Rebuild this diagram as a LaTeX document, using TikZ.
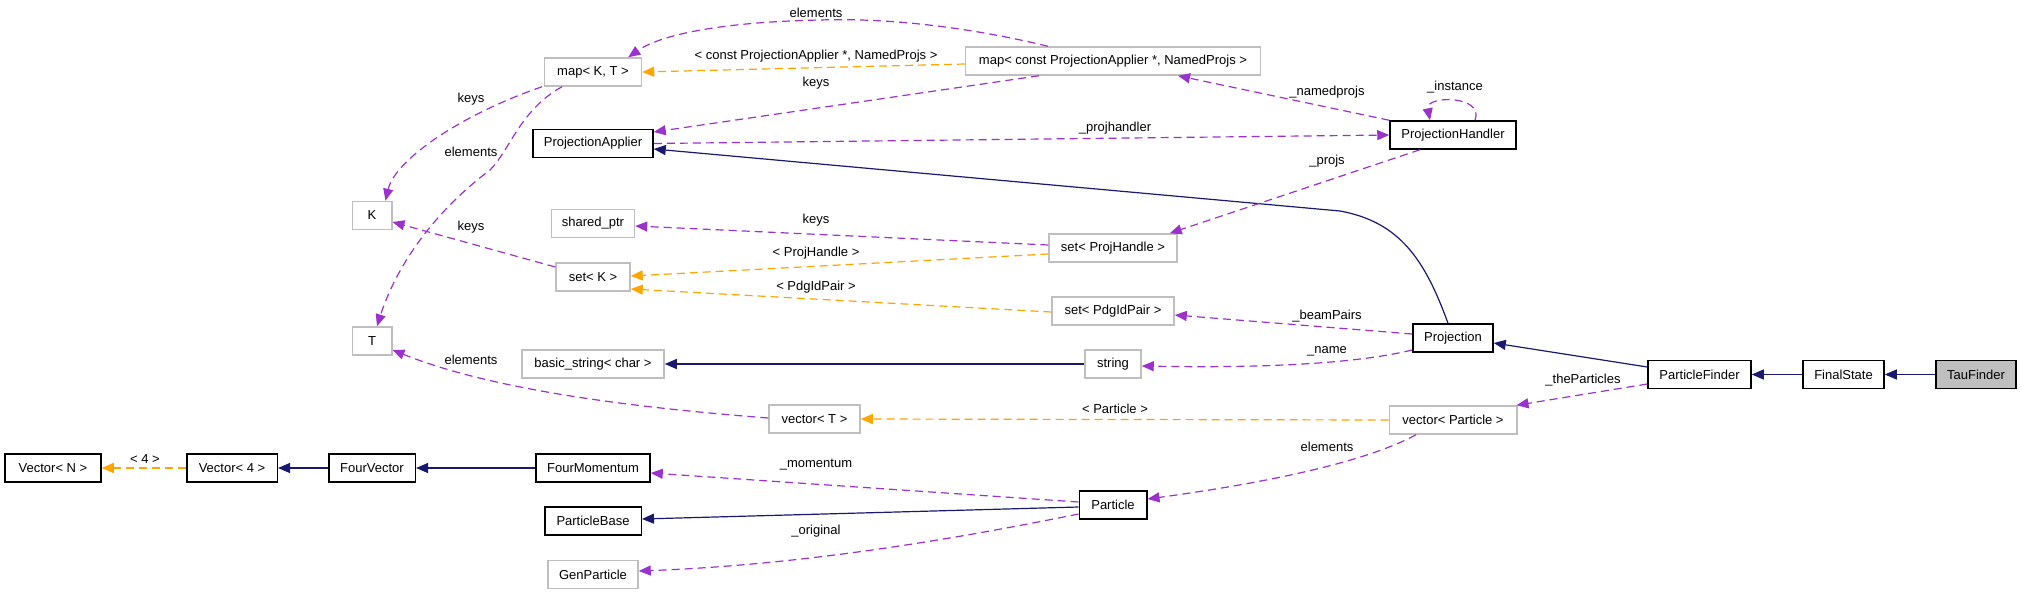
\documentclass[tikz,border=0pt]{standalone}
\usepackage{fontspec}
\setmainfont{Liberation Sans}
\usetikzlibrary{arrows.meta}
\definecolor{inhblue}{HTML}{191970}
\definecolor{usepurple}{HTML}{9A32CD}
\definecolor{instorange}{HTML}{FFA500}
\definecolor{boxgray}{HTML}{BFBFBF}
\tikzset{
	cls/.style={rectangle,draw=black,line width=1.5pt,fill=white,minimum height=28pt,inner xsep=2pt,inner ysep=0pt,font=\fontsize{13}{15}\selectfont},
	tcls/.style={cls,draw=boxgray},
	inherit/.style={draw=inhblue,line width=1.2pt,-{Triangle[length=12pt,width=10pt]}},
	member/.style={draw=usepurple,line width=1.2pt,dash pattern=on 8pt off 5pt,-{Triangle[length=12pt,width=10pt]}},
	templ/.style={member,draw=instorange},
	lbl/.style={inner sep=0pt,font=\fontsize{13}{15}\selectfont}
}
\begin{document}
\begin{tikzpicture}[x=1pt,y=-1pt]
		\useasboundingbox (0,0) rectangle (2021,595);
		% classes
		\node[tcls,minimum width=97pt](mapkt) at (593,72) {map< K, T >};
		\node[cls,minimum width=120pt](pa) at (593,143.5) {ProjectionApplier};
		\node[tcls,minimum width=39.5pt](k) at (372,215.5) {K};
		\node[tcls,minimum width=83pt](sp) at (593,223.5) {shared\_ptr};
		\node[tcls,minimum width=74pt](sk) at (593,277) {set< K >};
		\node[tcls,minimum width=39.5pt](t) at (372,341) {T};
		\node[tcls,minimum width=142pt](bs) at (593,364) {basic\_string< char >};
		\node[cls,minimum width=96pt](vn) at (53,468) {Vector< N >};
		\node[cls,minimum width=90.5pt](v4) at (232,468) {Vector< 4 >};
		\node[cls,minimum width=86.5pt](fv) at (372,468) {FourVector};
		\node[cls,minimum width=114pt](fm) at (593,468) {FourMomentum};
		\node[cls,minimum width=96.5pt](pb) at (593,521) {ParticleBase};
		\node[tcls,minimum width=90pt](gp) at (593,574.5) {GenParticle};
		\node[tcls,minimum width=295pt](mcpa) at (1113,61) {map< const ProjectionApplier *, NamedProjs >};
		\node[tcls,minimum width=128pt](sph) at (1113,248) {set< ProjHandle >};
		\node[tcls,minimum width=122pt](spp) at (1113,311) {set< PdgIdPair >};
		\node[tcls,minimum width=56pt](str) at (1113,364) {string};
		\node[tcls,minimum width=91pt](vt) at (814.5,419) {vector< T >};
		\node[cls,minimum width=67.5pt](pt) at (1113,505) {Particle};
		\node[cls,minimum width=126pt](ph) at (1453,135) {ProjectionHandler};
		\node[cls,minimum width=80pt](pr) at (1453,338) {Projection};
		\node[tcls,minimum width=127.5pt](vp) at (1453,420) {vector< Particle >};
		\node[cls,minimum width=103pt](pf) at (1699.5,374.5) {ParticleFinder};
		\node[cls,minimum width=81pt](fs) at (1843.5,374.5) {FinalState};
		\node[cls,minimum width=80pt,fill=boxgray](tf) at (1976,374.5) {TauFinder};
		% inheritance
		\draw[inherit] (tf) -- (fs);
		\draw[inherit] (fs) -- (pf);
		\draw[inherit] ([yshift=7.5pt]pf.west) -- ([yshift=-5pt]pr.east);
		\draw[inherit] ([xshift=-5pt]pr.north) .. controls (1425,260) and (1400,222) .. (1340,211) -- ([yshift=-5.5pt]pa.east);
		\draw[inherit] (str) -- (bs);
		\draw[inherit] ([yshift=-2pt]pt.west) -- ([yshift=2pt]pb.east);
		\draw[inherit] (fm) -- (fv);
		\draw[inherit] (fv) -- (v4);
		% members
		\draw[member] (pa.east) -- (ph.west);
		\draw[member] (ph.north west) -- ([xshift=65pt]mcpa.south);
		\draw[member] ([xshift=22pt]ph.north) .. controls (1485,95) and (1425,95) .. ([xshift=-23pt]ph.north);
		\draw[member] ([xshift=-33pt]ph.south) -- ([xshift=-8pt]sph.north east);
		\draw[member] ([xshift=-74pt]mcpa.south) -- ([yshift=11.5pt]pa.east);
		\draw[member] ([xshift=-65pt]mcpa.north) .. controls (960,25) and (880,18) .. (820,20) .. controls (720,22) and (660,35) .. ([xshift=-14pt]mapkt.north east);
		\draw[member] ([xshift=-51pt]mapkt.south) .. controls (460,115) and (395,160) .. ([xshift=-7pt]k.north east);
		\draw[member] ([xshift=-31pt]mapkt.south) .. controls (520,110) and (510,150) .. (490,170) .. controls (430,215) and (395,270) .. ([xshift=5pt]t.north);
		\draw[member] ([yshift=3pt]sph.west) -- ([yshift=-2.5pt]sp.east);
		\draw[member] ([yshift=10pt]sk.west) -- ([yshift=-6.5pt]k.east);
		\draw[member] ([yshift=4pt]pr.west) -- ([yshift=-4pt]spp.east);
		\draw[member] ([yshift=-12pt]pr.west) .. controls (1350,365) and (1250,368) .. ([yshift=-2pt]str.east);
		\draw[member] ([yshift=-9.5pt]pf.west) -- ([xshift=-1pt]vp.north east);
		\draw[member] ([xshift=-37pt]vp.south) .. controls (1360,465) and (1250,485) .. ([yshift=6pt]pt.east);
		\draw[member] ([yshift=1pt]vt.west) .. controls (600,405) and (480,385) .. ([yshift=-9pt]t.east);
		\draw[member] ([yshift=3pt]pt.west) -- ([yshift=-5pt]fm.east);
		\draw[member] ([yshift=-9pt]pt.west) .. controls (950,540) and (800,565) .. ([yshift=3.5pt]gp.east);
		% template instances
		\draw[templ] ([yshift=-3pt]mcpa.west) -- (mapkt.east);
		\draw[templ] ([yshift=-6pt]sph.west) -- ([yshift=1pt]sk.east);
		\draw[templ] ([yshift=-1pt]spp.west) -- ([yshift=-12pt]sk.east);
		\draw[templ] (vp.west) -- (vt.east);
		\draw[templ] (v4) -- (vn);
		% labels
		\node[lbl](lelem1) at (816,13) {elements};
		\node[lbl](lmcpa) at (816,56) {< const ProjectionApplier *, NamedProjs >};
		\node[lbl](lkeys1) at (816,83) {keys};
		\node[lbl](lprojh) at (1115,128) {\_projhandler};
		\node[lbl](lnamed) at (1327,92) {\_namedprojs};
		\node[lbl](linst) at (1455,87) {\_instance};
		\node[lbl](lprojs) at (1327,161) {\_projs};
		\node[lbl](lkeys2) at (816,220) {keys};
		\node[lbl](lph) at (816,253) {< ProjHandle >};
		\node[lbl](lpdg) at (816,287) {< PdgIdPair >};
		\node[lbl](lkeys3) at (471,99) {keys};
		\node[lbl](lelem2) at (471,152) {elements};
		\node[lbl](lkeys4) at (471,227) {keys};
		\node[lbl](lelem3) at (471,360) {elements};
		\node[lbl](lbeam) at (1327,316) {\_beamPairs};
		\node[lbl](lname) at (1327,351) {\_name};
		\node[lbl](lthe) at (1583,380) {\_theParticles};
		\node[lbl](lpart) at (1115,409) {< Particle >};
		\node[lbl](lelem4) at (1327,447) {elements};
		\node[lbl](lmom) at (816,465) {\_momentum};
		\node[lbl](lorig) at (816,531) {\_original};
		\node[lbl](lfour) at (145,459) {< 4 >};
	\end{tikzpicture}
\end{document}
